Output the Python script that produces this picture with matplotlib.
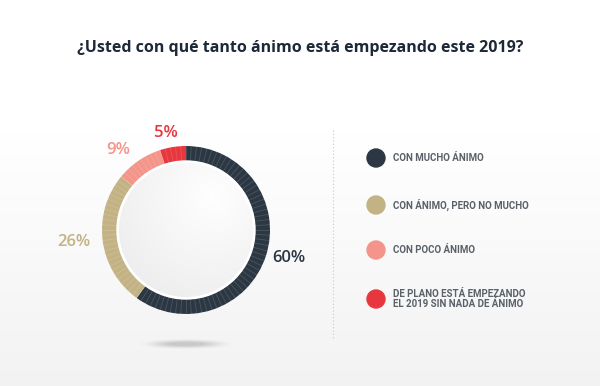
import numpy as np
import matplotlib.pyplot as plt
from matplotlib.patches import Circle, Ellipse
from matplotlib.lines import Line2D

title = "¿Usted con qué tanto ánimo está empezando este 2019?"
categories = ["CON MUCHO ÁNIMO", "CON ÁNIMO, PERO NO MUCHO", "CON POCO ÁNIMO",
              "DE PLANO ESTÁ EMPEZANDO\nEL 2019 SIN NADA DE ÁNIMO"]
values = [60, 26, 9, 5]
labels = ["60%", "26%", "9%", "5%"]
colors = ["#2b3742", "#c3b284", "#f3958a", "#e8363f"]

W, H = 600, 386
fig = plt.figure(figsize=(6, 3.86), dpi=100)
ax = fig.add_axes([0, 0, 1, 1])
ax.set_xlim(0, W)
ax.set_ylim(0, H)
ax.axis("off")

# background gradient
grad = np.linspace(0, 1, 200)[:, None]
bg = np.ones((200, 2, 3))
shade = 1 - 0.05 * np.clip((grad - 0.35) / 0.65, 0, 1)
bg[:] = shade[:, :, None]
ax.imshow(bg, extent=[0, W, 0, H], origin="upper", aspect="auto", zorder=0)

cx, cy = 186, H - 230
R, w = 84, 15

# shadow
for i, a in enumerate(np.linspace(0.03, 0.10, 6)):
    ax.add_patch(Ellipse((cx, H - 344), 90 - i * 10, 10 - i * 1.2,
                         color="#7a7a7a", alpha=a, lw=0, zorder=1))

wedges, _ = ax.pie(values, colors=colors, startangle=90, counterclock=False,
                   center=(cx, cy), radius=R,
                   wedgeprops=dict(width=w, linewidth=0), frame=True)
ax.set_xlim(0, W)
ax.set_ylim(0, H)
ax.set_aspect("equal")
ax.axis("off")

# segment lines on ring (decoration)
for ang in np.arange(0, 360, 3.6):
    t = np.deg2rad(ang)
    ax.add_line(Line2D([cx + (R - w) * np.cos(t), cx + R * np.cos(t)],
                       [cy + (R - w) * np.sin(t), cy + R * np.sin(t)],
                       color="white", alpha=0.15, lw=0.6, zorder=3))

# inner gradient circle
ax.add_patch(Circle((cx, cy), R - w, color="white", zorder=3))
n = 200
yy, xx = np.mgrid[0:n, 0:n] / (n - 1)
d = np.sqrt((xx - 0.7) ** 2 + (yy - 0.25) ** 2)
g = 0.998 - 0.08 * np.clip(d, 0, 1.1)
img = np.dstack([g, g, g])
ri = R - w - 2
im = ax.imshow(img, extent=[cx - ri, cx + ri, cy - ri, cy + ri], origin="upper", zorder=4)
clip = Circle((cx, cy), ri, transform=ax.transData, fc="none", ec="none")
ax.add_patch(clip)
im.set_clip_path(clip)

# percentage labels
label_pos = [(289, 258), (74, 242), (118, 150), (166, 133)]
for (x, y), lab, c in zip(label_pos, labels, colors):
    ax.text(x, H - y, lab, color=c, fontsize=12, fontfamily="Open Sans",
            fontweight="semibold", ha="center", va="center", zorder=5)

# title
ax.text(300, H - 48, title, ha="center", va="center", fontsize=11.5,
        fontfamily="Open Sans", fontweight="bold", color="#1d2838", zorder=5)

# dotted divider
ax.add_line(Line2D([333, 333], [H - 130, H - 340], color="#c8c8c8",
                   lw=0.8, ls=(0, (1, 2)), zorder=2))

# legend
leg_y = [158, 205, 250, 299]
for y, cat, c in zip(leg_y, categories, colors):
    ax.add_patch(Circle((376, H - y), 9, color=c, zorder=5))
    ax.text(393, H - y, cat, ha="left", va="center", fontsize=7,
            fontfamily="Roboto", fontweight="bold", color="#5a6169",
            linespacing=1.1, zorder=5)

fig.savefig("out.png", dpi=100)
